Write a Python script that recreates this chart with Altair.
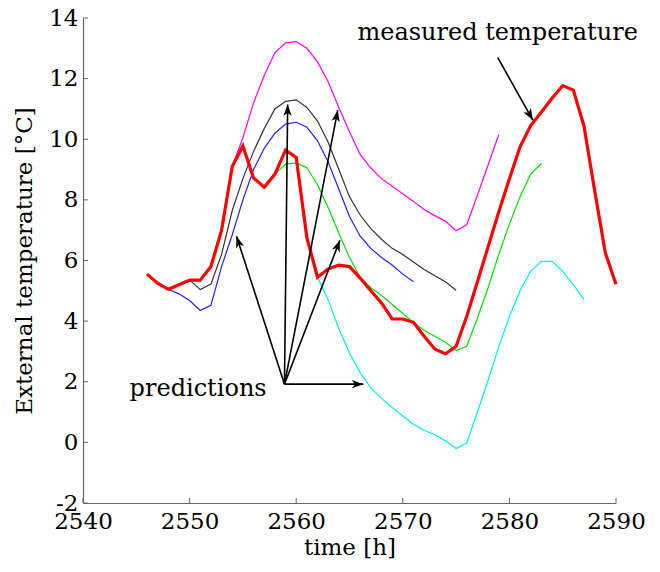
import math
import altair as alt
import pandas as pd

FONT = "DejaVu Serif"

# ---------------- data ----------------
measured_hours = list(range(2546, 2591))
measured = [5.55, 5.25, 5.05, 5.2, 5.35, 5.35, 5.8, 7.0, 9.1, 9.78,
            8.72, 8.42, 8.85, 9.64, 9.4, 6.75, 5.45, 5.72, 5.85, 5.8,
            5.42, 5.0, 4.6, 4.07, 4.07, 3.96, 3.5, 3.08, 2.92, 3.17,
            4.16, 5.3, 6.45, 7.6, 8.7, 9.75, 10.45, 10.9, 11.35, 11.77,
            11.62, 10.43, 8.3, 6.25, 5.22]

black_hours = list(range(2546, 2576))
black_pred = [5.55, 5.25, 5.05, 5.2, 5.36, 5.04, 5.22, 6.2, 7.65, 8.7,
              9.6, 10.35, 11.0, 11.25, 11.3, 11.05, 10.6, 9.9, 9.0, 8.1,
              7.5, 7.05, 6.7, 6.4, 6.2, 5.95, 5.7, 5.5, 5.3, 5.02]

blue_hours = list(range(2546, 2572))
blue_pred = [5.55, 5.25, 5.05, 4.9, 4.68, 4.35, 4.52, 5.8, 6.85, 8.0,
             9.0, 9.7, 10.2, 10.5, 10.56, 10.4, 9.95, 9.25, 8.35, 7.45,
             6.8, 6.4, 6.1, 5.85, 5.55, 5.3]

magenta_hours = list(range(2554, 2580))
magenta_pred = [9.1, 10.05, 11.2, 12.1, 12.85, 13.18, 13.22, 13.0, 12.55, 11.9,
                11.05, 10.25, 9.5, 9.05, 8.7, 8.45, 8.2, 7.95, 7.68, 7.48,
                7.3, 6.98, 7.18, 8.15, 9.15, 10.15]

green_hours = list(range(2558, 2584))
green_pred = [8.85, 9.18, 9.22, 9.06, 8.5, 7.75, 6.9, 6.1, 5.45, 5.1,
              4.85, 4.55, 4.25, 3.95, 3.7, 3.5, 3.3, 3.03, 3.17, 4.1,
              5.1, 6.2, 7.2, 8.1, 8.85, 9.2]

cyan_hours = list(range(2562, 2588))
cyan_pred = [5.45, 4.7, 3.75, 2.95, 2.3, 1.8, 1.45, 1.15, 0.87, 0.6,
             0.4, 0.25, 0.05, -0.2, -0.02, 1.0, 2.05, 3.15, 4.15, 5.0,
             5.65, 5.97, 5.97, 5.64, 5.2, 4.71]

series_names = ["magenta", "black", "blue", "green", "cyan", "measured"]
series_colors = ["#ff00ff", "#333333", "#2020ff", "#00e000", "#00f0f0", "#ff0000"]

x_ticks = [2540, 2550, 2560, 2570, 2580, 2590]
y_ticks = [-2, 0, 2, 4, 6, 8, 10, 12, 14]

# annotation arrows (start -> tip)
arrow_x0 = [2558.9, 2558.9, 2558.9, 2558.9, 2558.9, 2578.9]
arrow_y0 = [1.92, 1.92, 1.92, 1.92, 1.92, 12.7]
arrow_x1 = [2554.4, 2559.2, 2563.9, 2564.1, 2566.3, 2582.2]
arrow_y1 = [6.8, 11.15, 10.96, 6.67, 1.92, 10.63]

label_text = ["measured temperature", "predictions"]
label_x = [2578.9, 2550.8]
label_y = [13.5, 1.75]

# ---------------- layout ----------------
W, H = 533, 485
XDOM = [2540, 2590]
YDOM = [-2, 14]
kx = W / (XDOM[1] - XDOM[0])
ky = H / (YDOM[1] - YDOM[0])

rows = []
for name, hrs, vals in [("magenta", magenta_hours, magenta_pred),
                        ("black", black_hours, black_pred),
                        ("blue", blue_hours, blue_pred),
                        ("green", green_hours, green_pred),
                        ("cyan", cyan_hours, cyan_pred)]:
    for h, v in zip(hrs, vals):
        rows.append({"series": name, "t": h, "v": v})
pred_df = pd.DataFrame(rows)
meas_df = pd.DataFrame({"series": "measured", "t": measured_hours, "v": measured})

arrows = pd.DataFrame({"x0": arrow_x0, "y0": arrow_y0, "x1": arrow_x1, "y1": arrow_y1})
arrows["ang"] = [
    math.degrees(math.atan2((x1 - x0) * kx, (y1 - y0) * ky)) % 360
    for x0, y0, x1, y1 in zip(arrow_x0, arrow_y0, arrow_x1, arrow_y1)
]
labels = pd.DataFrame({"text": label_text, "x": label_x, "y": label_y})

xscale = alt.Scale(domain=XDOM, nice=False, zero=False)
yscale = alt.Scale(domain=YDOM, nice=False, zero=False)
color = alt.Color("series:N", scale=alt.Scale(domain=series_names, range=series_colors), legend=None)

xaxis = alt.Axis(values=x_ticks, title="time [h]", ticks=False, grid=False,
                 labelFont=FONT, labelFontSize=23, labelColor="black", labelPadding=7,
                 labelExpr="'' + datum.value",
                 titleFont=FONT, titleFontSize=23, titleFontWeight="normal", titleColor="black",
                 titlePadding=3, domainColor="#666666", labelFlush=False, labelOverlap=False)
yaxis = alt.Axis(values=y_ticks, title="External temperature [°C]", ticks=False, grid=False,
                 labelFont=FONT, labelFontSize=23, labelColor="black", labelPadding=5,
                 labelExpr="'' + datum.value",
                 titleFont=FONT, titleFontSize=23, titleFontWeight="normal", titleColor="black",
                 titlePadding=12, domainColor="#666666", labelFlush=False, labelOverlap=False)

base_pred = alt.Chart(pred_df).mark_line(strokeWidth=1.2).encode(
    x=alt.X("t:Q", scale=xscale, axis=xaxis),
    y=alt.Y("v:Q", scale=yscale, axis=yaxis),
    color=color,
    detail="series:N",
)
meas_line = alt.Chart(meas_df).mark_line(strokeWidth=3.2).encode(
    x=alt.X("t:Q", scale=xscale),
    y=alt.Y("v:Q", scale=yscale),
    color=color,
)

xt = alt.Chart(pd.DataFrame({"t": x_ticks})).mark_rule(color="#666666", strokeWidth=1).encode(
    x=alt.X("t:Q", scale=xscale), y=alt.value(H), y2=alt.value(H - 5))
yt = alt.Chart(pd.DataFrame({"v": y_ticks})).mark_rule(color="#666666", strokeWidth=1).encode(
    y=alt.Y("v:Q", scale=yscale), x=alt.value(0), x2=alt.value(5))

shafts = alt.Chart(arrows).mark_rule(color="black", strokeWidth=1.6).encode(
    x=alt.X("x0:Q", scale=xscale), y=alt.Y("y0:Q", scale=yscale),
    x2="x1:Q", y2="y1:Q")
heads = alt.Chart(arrows).mark_point(
    shape="M0,0 L-0.8,2.2 L0,1.6 L0.8,2.2 Z", filled=True, color="black",
    size=110, opacity=1, strokeWidth=0.5).encode(
    x=alt.X("x1:Q", scale=xscale), y=alt.Y("y1:Q", scale=yscale),
    angle=alt.Angle("ang:Q", scale=None))

texts = alt.Chart(labels).mark_text(font=FONT, fontSize=24, color="black",
                                    align="center", baseline="middle").encode(
    x=alt.X("x:Q", scale=xscale), y=alt.Y("y:Q", scale=yscale), text="text:N")

chart = alt.layer(base_pred, meas_line, xt, yt, shafts, heads, texts).properties(
    width=W, height=H,
    autosize=alt.AutoSizeParams(type="none"),
    padding={"left": 83, "top": 18, "right": 44, "bottom": 69},
    background="white",
).configure_view(stroke=None).configure_axisX(domainWidth=1.2).configure_axisY(domainWidth=1.2)

chart.save("out.html", embed_options={"renderer": "svg", "actions": False})
